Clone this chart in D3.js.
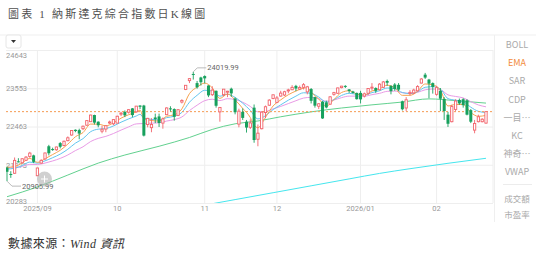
<!DOCTYPE html>
<html>
<head>
<meta charset="utf-8">
<script src="https://cdn.jsdelivr.net/npm/d3@7"></script>
<style>
body { margin: 0; background: #fff; }
svg { display: block; }
</style>
</head>
<body>
<script>
// trading days shown on the chart
var dates = [
  '2025-08-20','2025-08-21','2025-08-22','2025-08-25','2025-08-26','2025-08-27','2025-08-28','2025-08-29',
  '2025-09-02','2025-09-03','2025-09-04','2025-09-05','2025-09-08','2025-09-09','2025-09-10','2025-09-11','2025-09-12',
  '2025-09-15','2025-09-16','2025-09-17','2025-09-18','2025-09-19','2025-09-22','2025-09-23','2025-09-24','2025-09-25',
  '2025-09-26','2025-09-29','2025-09-30',
  '2025-10-01','2025-10-02','2025-10-03','2025-10-06','2025-10-07','2025-10-08','2025-10-09','2025-10-10','2025-10-13',
  '2025-10-14','2025-10-15','2025-10-16','2025-10-17','2025-10-20','2025-10-21','2025-10-22','2025-10-23','2025-10-24',
  '2025-10-27','2025-10-28','2025-10-29','2025-10-30','2025-10-31',
  '2025-11-03','2025-11-04','2025-11-05','2025-11-06','2025-11-07','2025-11-10','2025-11-11','2025-11-12','2025-11-13',
  '2025-11-14','2025-11-17','2025-11-18','2025-11-19','2025-11-20','2025-11-21','2025-11-24','2025-11-25','2025-11-26',
  '2025-11-28',
  '2025-12-01','2025-12-02','2025-12-03','2025-12-04','2025-12-05','2025-12-08','2025-12-09','2025-12-10','2025-12-11',
  '2025-12-12','2025-12-15','2025-12-16','2025-12-17','2025-12-18','2025-12-19','2025-12-22','2025-12-23','2025-12-24',
  '2025-12-26','2025-12-29','2025-12-30','2025-12-31',
  '2026-01-02','2026-01-05','2026-01-06','2026-01-07','2026-01-08','2026-01-09','2026-01-12','2026-01-13','2026-01-14',
  '2026-01-15','2026-01-16','2026-01-20','2026-01-21','2026-01-22','2026-01-23','2026-01-26','2026-01-27','2026-01-28',
  '2026-01-29','2026-01-30',
  '2026-02-02','2026-02-03','2026-02-04','2026-02-05','2026-02-06','2026-02-09','2026-02-10','2026-02-11','2026-02-12',
  '2026-02-13','2026-02-17','2026-02-18','2026-02-19','2026-02-20'
];

var openVals = [
  21290,21110,21130,21470,21430,21500,21610,21640,
  21060,21420,21540,21900,21820,21800,21990,21920,22060,22220,22370,22360,22400,22500,22600,22790,22600,22330,22390,22590,22540,
  22560,22840,22880,22870,22980,22880,23060,23060,22520,22430,22720,22750,22560,22800,22980,22960,22780,23160,23520,23770,23960,23700,23860,
  23900,23630,23370,23480,22880,23370,23450,23540,23260,22530,22880,22600,22440,23000,22100,22400,22860,23070,23260,
  23150,23330,23360,23480,23510,23620,23530,23580,23450,23530,23300,23040,23170,23150,23100,23380,23410,23570,23620,23520,23460,23420,
  23420,23330,23410,23560,23560,23510,23580,23760,23620,23660,23650,23180,22990,23400,23420,23480,23700,23940,23800,23700,
  23380,23480,23250,22800,22600,22950,23220,23240,23210,22930,22360,22600,22600,22560
];
var highVals = [
  21320,21190,21580,21560,21560,21620,21740,21660,
  21290,21530,21720,21940,21860,21890,22020,22060,22180,22360,22380,22400,22490,22640,22800,22800,22610,22480,22500,22630,22670,
  22770,22880,22920,22960,22990,23050,23070,23080,22710,22700,22830,22830,22720,23010,23040,22980,22960,23240,23640,23840,24019.99,23760,23880,
  23920,23640,23610,23490,23020,23530,23480,23570,23290,22970,22980,22650,22670,23090,22520,22890,23060,23240,23370,
  23330,23480,23480,23540,23640,23650,23630,23700,23620,23560,23310,23130,23190,23200,23330,23450,23570,23620,23640,23530,23480,23430,
  23480,23430,23560,23700,23580,23700,23760,23800,23640,23700,23700,23200,23300,23500,23540,23640,23840,23990,23820,23720,
  23620,23560,23300,22880,23080,23240,23260,23270,23240,22960,22650,22800,22700,22900
];
var lowVals = [
  20905.99,21000,21110,21440,21410,21480,21570,21420,
  21050,21400,21510,21640,21770,21770,21840,21900,22040,22200,22300,22100,22360,22480,22590,22520,22440,22270,22300,22530,22500,
  22550,22760,22730,22830,22730,22860,22960,22180,22440,22300,22560,22450,22400,22790,22890,22630,22760,23120,23500,23700,23800,23540,23630,
  23690,23300,23330,23000,22600,23320,23300,23310,22810,22440,22650,22290,22390,22000,21900,22380,22700,23050,23240,
  23130,23310,23330,23410,23500,23470,23500,23520,23380,23120,23000,22960,22680,22980,23080,23340,23390,23550,23560,23420,23400,23230,
  23120,23290,23360,23490,23420,23490,23560,23620,23380,23480,23470,22920,22900,23350,23380,23460,23690,23820,23270,23400,
  23340,22900,22650,22450,22580,22900,23080,23000,22780,22560,22270,22580,22580,22540
];
var closeVals = [
  21173,21100,21497,21449,21544,21590,21705,21456,
  21280,21498,21708,21700,21799,21879,21886,22043,22141,22349,22334,22261,22471,22631,22789,22573,22498,22385,22484,22591,22660,
  22755,22844,22781,22942,22788,23043,23025,22204,22695,22522,22670,22563,22680,22991,22954,22740,22942,23205,23637,23827,23958,23581,23725,
  23835,23349,23500,23054,23005,23527,23468,23406,22870,22901,22708,22433,22564,22078,22273,22872,23026,23215,23366,
  23276,23414,23454,23505,23578,23546,23576,23654,23594,23195,23057,23111,22693,23006,23308,23429,23562,23613,23593,23474,23419,23242,
  23236,23395,23547,23584,23480,23671,23733,23710,23471,23530,23515,22954,23224,23436,23501,23601,23817,23857,23685,23590,
  23570,23255,22904,22541,23031,23190,23120,23070,22800,22600,22550,22740,22670,22886
];

// moving-average lines, [candle index, value]
var ema5 = [[0,21300],[2,21321],[4,21424],[6,21554],[8,21441],[10,21543],[12,21663],[14,21785],[16,21961],[18,22171],
  [20,22291],[22,22532],[24,22530],[26,22483],[28,22566],[30,22701],[32,22799],[34,22878],[35,22927],[36,22686],[38,22633],
  [40,22618],[42,22756],[44,22795],[46,22964],[48,23401],[50,23585],[52,23700],[54,23564],[56,23264],[58,23391],[60,23221],
  [62,22979],[64,22719],[65,22505],[66,22428],[68,22726],[70,23048],[72,23221],[74,23368],[76,23474],[78,23557],[79,23569],[80,23444],
  [82,23247],[84,23043],[86,23230],[88,23432],[90,23482],[92,23388],[94,23356],[96,23475],[98,23541],[100,23640],[102,23566],
  [104,23351],[106,23351],[108,23468],[110,23675],[112,23649],[114,23500],[116,23048],[118,23091],[120,23091],[122,22863],
  [124,22753],[126,22779]];
var ema10 = [[0,21250],[2,21273],[4,21348],[6,21449],[8,21419],[10,21484],[12,21573],[14,21676],[16,21815],[18,21989],
  [20,22117],[22,22315],[24,22387],[26,22404],[28,22478],[30,22586],[32,22680],[34,22762],[35,22810],[36,22700],[38,22667],
  [40,22648],[42,22715],[44,22755],[46,22865],[48,23155],[50,23352],[52,23495],[54,23474],[56,23327],[58,23382],[60,23292],
  [62,23128],[64,22922],[66,22679],[68,22771],[70,22945],[72,23080],[74,23213],[76,23328],[78,23424],[80,23408],[82,23302],
  [84,23157],[86,23229],[88,23348],[90,23408],[92,23379],[94,23361],[96,23429],[98,23481],[100,23560],[102,23541],[104,23431],
  [106,23401],[108,23452],[110,23580],[112,23597],[114,23531],[116,23258],[118,23212],[120,23172],[122,23013],[124,22895],[126,22860]];
var ema20 = [[0,21280],[2,21285],[4,21324],[6,21383],[8,21380],[10,21421],[12,21481],[14,21554],[16,21652],[18,21777],
  [20,21885],[22,22035],[24,22125],[26,22182],[28,22263],[30,22361],[32,22452],[34,22537],[36,22548],[38,22558],[40,22568],
  [42,22618],[44,22659],[46,22735],[48,22917],[50,23070],[52,23199],[54,23240],[56,23202],[58,23255],[60,23232],[62,23154],
  [64,23035],[66,22880],[68,22893],[70,22966],[72,23035],[74,23116],[76,23197],[78,23273],[80,23294],[82,23256],[84,23183],
  [86,23217],[88,23285],[90,23329],[92,23329],[94,23327],[96,23370],[98,23408],[100,23465],[102,23472],[104,23426],[106,23410],
  [108,23436],[110,23509],[112,23532],[114,23509],[116,23365],[118,23319],[120,23278],[122,23172],[124,23077],[126,23024]];
var ema60 = [[0,20462],[8,20740],[16,21080],[24,21420],[31,21650],[40,21900],[48,22150],[54,22380],[60,22540],[66,22620],
  [72,22740],[80,22880],[88,22990],[96,23080],[104,23160],[111,23250],[118,23200],[126,23130]];
var ema120 = [[53,20243],[60,20380],[70,20576],[80,20773],[90,20970],[98,21126],[106,21260],[116,21414],[126,21557]];

var yTicks = [20283, 21373, 22463, 23553, 24643];
var tickDates = ['2025-09-02', '2025-10-01', '2025-11-03', '2025-12-01', '2026-01-02', '2026-02-02'];
var tickLabels = ['2025/09', '10', '11', '12', '2026/01', '02'];
var lastPrice = 22886;

var menuItems = ['BOLL', 'EMA', 'SAR', 'CDP', '一目…', 'KC', '神奇…', 'VWAP'];
var menuItems2 = ['成交額', '市盈率'];

var upColor = '#f2636b';
var downColor = '#17a05d';
var lineColors = ['#f7a24f', '#62c6ef', '#e99be6', '#62d18f', '#45e6ee'];

var plotL = 6, plotR = 493, plotT = 50, plotB = 203;

var svg = d3.select('body')
  .append('svg')
  .attr('width', 536)
  .attr('height', 262);

var x = d3.scaleBand()
    .domain(dates)
    .range([5.1, 487.9]);
var xc = function(d){ return x(d) + x.bandwidth() / 2; };

var y = d3.scaleLinear()
    .domain([20283, 24643])
    .range([plotB, plotT]);

// title and source
svg.append('text')
  .attr('x', 8).attr('y', 18)
  .attr('font-family', '"Liberation Serif", "Noto Sans CJK TC", serif')
  .attr('font-size', 11)
  .attr('letter-spacing', 2.2)
  .attr('fill', '#505050')
  .text('圖表 1 納斯達克綜合指數日K線圖');

var src = svg.append('text')
  .attr('x', 8).attr('y', 248)
  .attr('font-family', '"Liberation Serif", "Noto Sans CJK TC", serif')
  .attr('font-size', 12)
  .attr('letter-spacing', 0.4)
  .attr('fill', '#333');
src.append('tspan').text('數據來源：');
src.append('tspan').attr('font-style', 'italic').text('Wind 資訊');

// panel frame
svg.append('line').attr('x1', 0).attr('x2', 536).attr('y1', 35).attr('y2', 35)
  .attr('stroke', '#efefef');
svg.append('line').attr('x1', 494.5).attr('x2', 494.5).attr('y1', 35).attr('y2', 222)
  .attr('stroke', '#efefef');
svg.append('rect').attr('x', 6).attr('y', 35).attr('width', 15).attr('height', 13).attr('rx', 2)
  .attr('fill', '#fff').attr('stroke', '#e6e6e6');
svg.append('path').attr('d', 'M11,40 L16,40 L13.5,43 Z').attr('fill', '#333');

// grid + axes
var yAxis = d3.axisLeft(y).tickValues(yTicks).tickSize(-(plotR - plotL)).tickFormat(d3.format('d'));
var gy = svg.append('g').attr('class', 'axis y').attr('transform', 'translate(' + plotL + ',0)').call(yAxis);
gy.select('.domain').remove();
gy.selectAll('line').attr('stroke', '#eeeeee');
gy.selectAll('text')
  .attr('x', 0)
  .attr('dy', function(d){ return d === 24643 ? '0.95em' : (d === 20283 ? '0' : '0.32em'); })
  .attr('text-anchor', 'start')
  .attr('fill', '#999')
  .attr('font-size', 7.5)
  .attr('font-family', 'Roboto, "Noto Sans", sans-serif');

var xAxis = d3.axisBottom(x).tickValues(tickDates).tickSize(-(plotB - plotT)).tickPadding(3)
  .tickFormat(function(d, i){ return tickLabels[i]; });
var gx = svg.append('g').attr('class', 'axis x').attr('transform', 'translate(0,' + plotB + ')').call(xAxis);
gx.select('.domain').remove();
gx.selectAll('line').attr('stroke', '#eeeeee');
gx.selectAll('text')
  .attr('fill', '#999')
  .attr('font-size', 7.5)
  .attr('font-family', 'Roboto, "Noto Sans", sans-serif');

svg.append('line').attr('x1', plotR).attr('x2', plotR).attr('y1', plotT).attr('y2', plotB).attr('stroke', '#eeeeee');

svg.append('clipPath').attr('id', 'plot')
  .append('rect').attr('x', plotL).attr('y', plotT).attr('width', plotR - plotL).attr('height', plotB - plotT);

var plot = svg.append('g').attr('clip-path', 'url(#plot)');

// moving averages
var line = d3.line()
  .x(function(d){ return xc(dates[d[0]]); })
  .y(function(d){ return y(d[1]); })
  .curve(d3.curveMonotoneX);

[ema120, ema60, ema20, ema10, ema5].forEach(function(s, k){
  plot.append('path')
    .attr('fill', 'none')
    .attr('stroke', lineColors[4 - k])
    .attr('stroke-width', 1)
    .attr('d', line(s));
});

// last price line
plot.append('line')
  .attr('x1', plotL).attr('x2', plotR)
  .attr('y1', y(lastPrice)).attr('y2', y(lastPrice))
  .attr('stroke', '#f59a52').attr('stroke-width', 1).attr('stroke-dasharray', '2,2');

// candles
var candles = plot.selectAll('g.candle')
  .data(dates)
  .enter()
  .append('g')
  .attr('class', 'candle');

candles.append('line')
  .attr('x1', function(d){ return xc(d); })
  .attr('x2', function(d){ return xc(d); })
  .attr('y1', function(d, i){ return y(highVals[i]); })
  .attr('y2', function(d, i){ return y(lowVals[i]); })
  .attr('stroke', function(d, i){ return closeVals[i] >= openVals[i] ? upColor : downColor; })
  .attr('stroke-width', 0.9);

candles.append('rect')
  .attr('x', function(d, i){ return closeVals[i] >= openVals[i] ? xc(d) - 1.15 : xc(d) - 1.5; })
  .attr('width', function(d, i){ return closeVals[i] >= openVals[i] ? 2.3 : 3; })
  .attr('y', function(d, i){ return y(Math.max(openVals[i], closeVals[i])); })
  .attr('height', function(d, i){ return Math.max(1, Math.abs(y(openVals[i]) - y(closeVals[i]))); })
  .attr('fill', function(d, i){ return closeVals[i] >= openVals[i] ? '#fff' : downColor; })
  .attr('stroke', function(d, i){ return closeVals[i] >= openVals[i] ? upColor : 'none'; })
  .attr('stroke-width', 0.9);

// max / min markers
var iMax = d3.maxIndex(highVals), iMin = d3.minIndex(lowVals);
var xMax = xc(dates[iMax]), yMax = y(highVals[iMax]);
var xMin = xc(dates[iMin]), yMin = y(lowVals[iMin]);

svg.append('path')
  .attr('d', 'M' + xMax + ',' + yMax + ' L' + (xMax + 4) + ',' + (yMax - 4) + ' L' + (xMax + 13) + ',' + (yMax - 4))
  .attr('fill', 'none').attr('stroke', '#aaa').attr('stroke-width', 0.8);
svg.append('text')
  .attr('x', xMax + 14).attr('y', yMax - 1.5)
  .attr('font-size', 7.5).attr('fill', '#666')
  .attr('font-family', 'Roboto, "Noto Sans", sans-serif')
  .text(d3.format('.2f')(highVals[iMax]));

svg.append('path')
  .attr('d', 'M' + xMin + ',' + yMin + ' L' + (xMin + 5) + ',' + (yMin + 5) + ' L' + (xMin + 14) + ',' + (yMin + 5))
  .attr('fill', 'none').attr('stroke', '#aaa').attr('stroke-width', 0.8);
svg.append('text')
  .attr('x', xMin + 15).attr('y', yMin + 8)
  .attr('font-size', 7.5).attr('fill', '#666')
  .attr('font-family', 'Roboto, "Noto Sans", sans-serif')
  .text(d3.format('.2f')(lowVals[iMin]));

// floating zoom button
svg.append('circle').attr('cx', 44.5).attr('cy', 179).attr('r', 7.5)
  .attr('fill', '#b0b0b0').attr('fill-opacity', 0.6);
svg.append('path').attr('d', 'M41,179 L48,179 M44.5,175.5 L44.5,182.5')
  .attr('stroke', '#fff').attr('stroke-width', 1);

// indicator menu
svg.selectAll('text.menu')
  .data(menuItems)
  .enter()
  .append('text')
  .attr('class', 'menu')
  .attr('x', 517)
  .attr('y', function(d, i){ return 48 + i * 18.2; })
  .attr('text-anchor', 'middle')
  .attr('font-size', 9)
  .attr('font-family', '"Noto Sans CJK TC", "Noto Sans", sans-serif')
  .attr('fill', function(d){ return d === 'EMA' ? '#f28a3a' : '#aaa'; })
  .text(function(d){ return d; });

svg.append('line').attr('x1', 503).attr('x2', 532).attr('y1', 184.5).attr('y2', 184.5).attr('stroke', '#ececec');

svg.selectAll('text.menu2')
  .data(menuItems2)
  .enter()
  .append('text')
  .attr('class', 'menu2')
  .attr('x', 517)
  .attr('y', function(d, i){ return 202 + i * 15.5; })
  .attr('text-anchor', 'middle')
  .attr('font-size', 8.5)
  .attr('font-family', '"Noto Sans CJK TC", "Noto Sans", sans-serif')
  .attr('fill', '#aaa')
  .text(function(d){ return d; });
</script>
</body>
</html>
